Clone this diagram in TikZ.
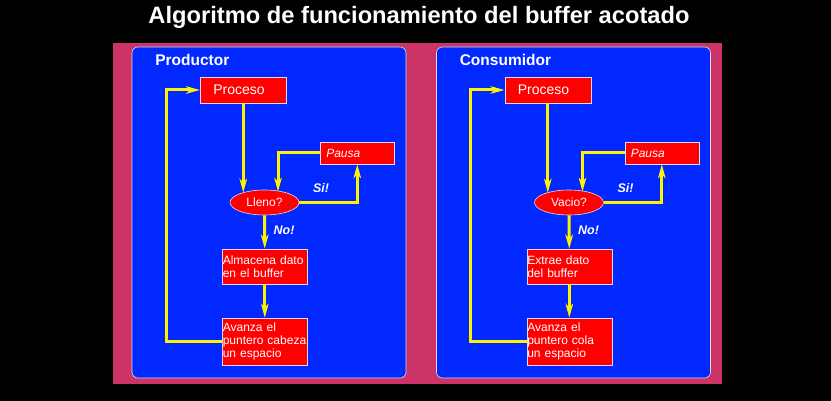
\documentclass[tikz,border=0pt]{standalone}
\usepackage{fontspec}
\setmainfont{Liberation Sans}
\usetikzlibrary{shapes.geometric,arrows.meta}
\definecolor{frame}{RGB}{204,51,102}
\definecolor{panelblue}{RGB}{0,40,255}
\definecolor{rim}{RGB}{225,215,240}
\tikzset{every picture/.style={line width=0.6pt}}
\tikzset{
  panel/.style={draw=rim, fill=panelblue, rounded corners=6pt},
  blk/.style={draw=rim, fill=red, text=white, anchor=west, align=left,
              font=\fontsize{12}{13}\selectfont, inner ysep=0pt, inner xsep=#1},
  blk/.default={0.5pt}, % default padding left of the text
  test/.style={ellipse, draw=rim, fill=red, text=white, inner sep=0pt,
               minimum width=69pt, minimum height=25pt,
               font=\fontsize{12}{13}\selectfont},
  flow/.style={draw=yellow, line width=3pt,
               -{Stealth[length=14pt,width=7.5pt,inset=4pt]}},
  answer/.style={text=white, font=\bfseries\itshape\fontsize{12.5}{14}\selectfont},
  section/.style={anchor=west, inner xsep=0pt, text=white,
                  font=\bfseries\fontsize{15.5}{17}\selectfont},
}

\begin{document}
\begin{tikzpicture}[x=1pt,y=-1pt]
  % background and frame
  \useasboundingbox (0,0) rectangle (831,401);
  \fill[black] (0,0) rectangle (831,401);
  \fill[frame] (113,43) rectangle (722,384);
  \node[text=white, font=\bfseries\fontsize{23.7}{26}\selectfont] (title) at (419,17)
    {Algoritmo de funcionamiento del buffer acotado};
  % one panel per side | shifted by \s
  \foreach \s/\head/\cond/\job/\ptrname [count=\k] in
    {0/Productor/Lleno?/{Almacena dato\\en el buffer}/cabeza,
     304.5/Consumidor/Vacio?/{Extrae dato\\del buffer}/cola} {
      \draw[panel] (132+\s,47) rectangle (406+\s,378);
      \node[section] (sec\k) at (155+\s,60) {\head};
      % blocks
      \node[blk=13pt, text width=60pt, minimum height=26pt,
            font=\fontsize{14}{16}\selectfont] (proc\k) at (200+\s,90) {Proceso};
      \node[blk=6pt, text width=62pt, minimum height=22pt,
            font=\itshape\fontsize{12}{13}\selectfont] (pausa\k) at (320+\s,153) {Pausa};
      \node[test] (test\k) at (264.5+\s,202.5) {\cond};
      \node[blk, text width=84pt, minimum height=35pt] (work\k) at (222+\s,266.5) {\job};
      \node[blk, text width=84pt, minimum height=47pt] (ptr\k) at (222+\s,341.5)
        {Avanza el\\puntero \ptrname\\un espacio};
      \node[answer] (si\k) at (321+\s,188) {Si!};
      \node[answer] (no\k) at (284+\s,230) {No!};
      \coordinate (back\k) at (166+\s,200);
      % connect blocks
      \draw[flow, shorten >=-3pt] (proc\k.south) -- (proc\k.south |- test\k.north);
      \draw[flow, shorten >=-2pt] (pausa\k.west) -| ([xshift=13.5pt]test\k.north);
      \draw[flow] (test\k.east) -| (pausa\k.south);
      \draw[flow] (test\k.south) -- (work\k.north);
      \draw[flow] (work\k.south) -- (ptr\k.north);
      \draw[flow] (ptr\k.west) -| (back\k) |- (proc\k.west);
  };
\end{tikzpicture}
\end{document}
